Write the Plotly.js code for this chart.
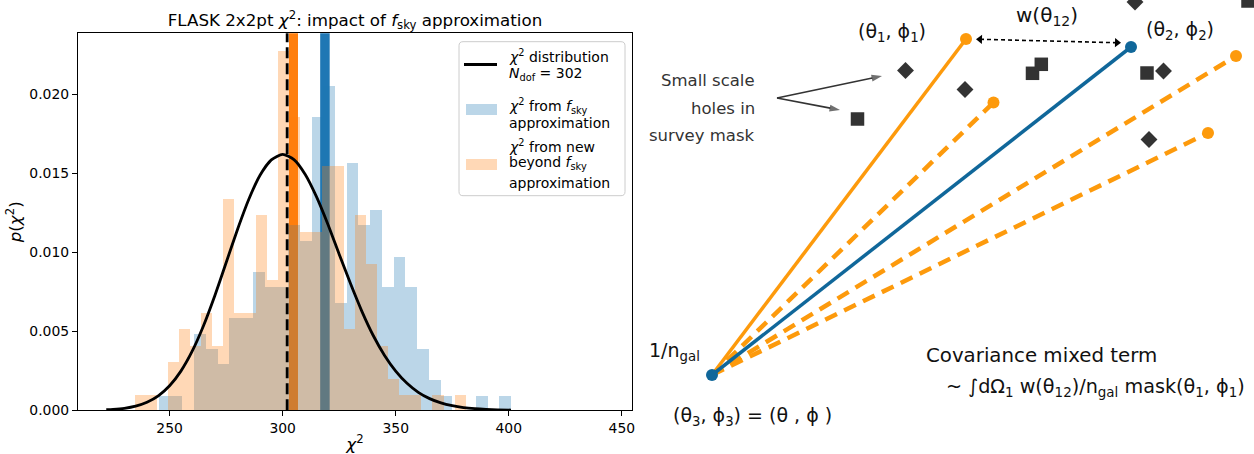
<!DOCTYPE html>
<html>
<head>
<meta charset="utf-8">
<script src="https://cdn.plot.ly/plotly-3.0.1.min.js"></script>
<style>
html,body{margin:0;padding:0;background:#ffffff;}
#chart{width:1254px;height:454px;}
</style>
</head>
<body>
<div id="chart"></div>
<script>
// ---------------- data (left panel) ----------------
// chi^2 histogram from the f_sky approximation (30 bins, density)
const fskyBinStart = 245.3;
const fskyBinWidth = 5.19;
const fskyDensity = [0.00092,0.00092,0,0.00483,0.00388,0.00291,0.00586,0.00586,0.00877,0.00782,
                     0.00782,0.01173,0.01074,0.01855,0.02053,0.0068,0.01564,0.01173,0.01268,0.00779,
                     0.00972,0.00779,0.00386,0.0019,0.00092,0,0,0.00092,0,0.00092];
// chi^2 histogram from the new beyond-f_sky approximation (30 bins, density)
const newBinStart = 234.5;
const newBinWidth = 4.88;
const newDensity = [0.00097,0.00097,0,0.00304,0.00513,0.00409,0.00614,0.00409,0.0134,0.00614,
                    0.00614,0.01236,0.00825,0.02274,0.01855,0.0113,0.0113,0.01547,0.01547,0.00513,
                    0.01236,0.00926,0.00409,0.00198,0.00097,0.00097,0,0.00097,0,0.00097];
// chi^2 distribution curve, N_dof = 302
const chi2Grid = [222,225,230,235,240,245,250,255,260,265,270,275,280,285,290,295,300,305,310,315,
                  320,325,330,335,340,345,350,355,360,365,370,375,380,385,390,395,401];
const chi2Pdf = [0.000034,0.000057,0.000126,0.000261,0.000504,0.00091,0.00155,0.00248,0.00374,0.00535,
                 0.00725,0.00934,0.01143,0.01334,0.01488,0.01585,0.0162,0.01587,0.01493,0.01351,
                 0.01178,0.00988,0.00802,0.00628,0.00475,0.00349,0.00248,0.00171,0.00114,0.00074,
                 0.00047,0.00029,0.00017,0.0001,0.000057,0.000032,0.000015];
// mean chi^2 values marked by vertical lines
const nDof = 302;
const fskyMean = 318.7;
const newMean = 304.8;
const xTickVals = [250,300,350,400,450];
const yTickVals = [0,0.005,0.01,0.015,0.02];
const yTickText = ['0.000','0.005','0.010','0.015','0.020'];

// ---------------- data (right panel diagram, drawing units) ----------------
const node3 = [712, 375];      // (θ3, ϕ3)
const node1 = [966, 39];       // (θ1, ϕ1)
const node2 = [1131, 47];      // (θ2, ϕ2)
const dashedEndX = [993.5, 1236, 1208];
const dashedEndY = [102.5, 56, 133];
const holeSquareX = [857.5, 1032.5, 1041.3, 1147, 1248];
const holeSquareY = [119, 73.3, 64.3, 73, 1];
const holeDiamondX = [905.5, 965, 1163.5, 1149, 1135];
const holeDiamondY = [70.5, 89.5, 71, 139.5, 2];
const wArrowX = [980, 1117];
const wArrowY = [39.3, 42.7];
const pointerFrom = [777, 98];
const pointerToX = [882, 840];
const pointerToY = [76, 110];

// ---------------- helpers ----------------
const W = 1254, H = 454;
const PX = v => v / W;
const PY = v => 1 - v / H;
const ORANGE = '#fd9a0c';
const BLUE = '#10679a';
const DARK = '#333333';
const FONT = 'DejaVu Sans, sans-serif';
const DFONT = 'DejaVu Sans, sans-serif';
const NB = '\u00a0';

const centers = (start, w, arr) => arr.map((_, i) => start + (i + 0.5) * w);

const traces = [];
traces.push({
  type: 'bar', x: centers(fskyBinStart, fskyBinWidth, fskyDensity), y: fskyDensity,
  width: fskyBinWidth, marker: {color: 'rgba(31,119,180,0.3)', line: {width: 0}},
  xaxis: 'x', yaxis: 'y', showlegend: false, hoverinfo: 'skip'
});
traces.push({
  type: 'bar', x: centers(newBinStart, newBinWidth, newDensity), y: newDensity,
  width: newBinWidth, marker: {color: 'rgba(255,127,14,0.3)', line: {width: 0}},
  xaxis: 'x', yaxis: 'y', showlegend: false, hoverinfo: 'skip'
});
traces.push({
  type: 'scatter', mode: 'lines', x: chi2Grid, y: chi2Pdf,
  line: {color: '#000000', width: 2.8, shape: 'spline', smoothing: 0.6},
  xaxis: 'x', yaxis: 'y', showlegend: false, hoverinfo: 'skip'
});

// diagram: dashed orange lines
for (let i = 0; i < dashedEndX.length; i++) {
  traces.push({
    type: 'scatter', mode: 'lines', x: [node3[0], dashedEndX[i]], y: [node3[1], dashedEndY[i]],
    line: {color: ORANGE, width: 4.5, dash: '13px,8px'},
    xaxis: 'x2', yaxis: 'y2', showlegend: false, hoverinfo: 'skip'
  });
}
traces.push({
  type: 'scatter', mode: 'lines', x: [node3[0], node1[0]], y: [node3[1], node1[1]],
  line: {color: ORANGE, width: 3.5}, xaxis: 'x2', yaxis: 'y2', showlegend: false, hoverinfo: 'skip'
});
traces.push({
  type: 'scatter', mode: 'lines', x: [node3[0], node2[0]], y: [node3[1], node2[1]],
  line: {color: BLUE, width: 3.5}, xaxis: 'x2', yaxis: 'y2', showlegend: false, hoverinfo: 'skip'
});
traces.push({
  type: 'scatter', mode: 'markers', x: dashedEndX.concat([node1[0]]), y: dashedEndY.concat([node1[1]]),
  marker: {color: ORANGE, size: 12, line: {width: 0}}, xaxis: 'x2', yaxis: 'y2', showlegend: false, hoverinfo: 'skip'
});
traces.push({
  type: 'scatter', mode: 'markers', x: [node3[0], node2[0]], y: [node3[1], node2[1]],
  marker: {color: BLUE, size: 12, line: {width: 0}}, xaxis: 'x2', yaxis: 'y2', showlegend: false, hoverinfo: 'skip'
});
traces.push({
  type: 'scatter', mode: 'markers', x: holeSquareX, y: holeSquareY,
  marker: {symbol: 'square', color: DARK, size: 13.5, line: {width: 0}},
  xaxis: 'x2', yaxis: 'y2', showlegend: false, hoverinfo: 'skip'
});
traces.push({
  type: 'scatter', mode: 'markers', x: holeDiamondX, y: holeDiamondY,
  marker: {symbol: 'diamond', color: DARK, size: 13, line: {width: 0}},
  xaxis: 'x2', yaxis: 'y2', showlegend: false, hoverinfo: 'skip'
});
// w(θ12) dashed double arrow
traces.push({
  type: 'scatter', mode: 'lines', x: wArrowX, y: wArrowY,
  line: {color: '#000000', width: 1.6, dash: '4px,3px'},
  xaxis: 'x2', yaxis: 'y2', showlegend: false, hoverinfo: 'skip'
});
traces.push({
  type: 'scatter', mode: 'markers', x: wArrowX, y: wArrowY,
  marker: {symbol: ['triangle-left', 'triangle-right'], angle: 1.4, color: '#000000', size: 8, line: {width: 0}},
  xaxis: 'x2', yaxis: 'y2', showlegend: false, hoverinfo: 'skip'
});
// "small scale holes" pointer arrows
for (let i = 0; i < pointerToX.length; i++) {
  traces.push({
    type: 'scatter', mode: 'lines+markers', x: [pointerFrom[0], pointerToX[i]], y: [pointerFrom[1], pointerToY[i]],
    line: {color: DARK, width: 1.6},
    marker: {symbol: ['circle', 'arrow'], angleref: 'previous', size: [0, 11], color: DARK, line: {width: 0}},
    xaxis: 'x2', yaxis: 'y2', showlegend: false, hoverinfo: 'skip', cliponaxis: false
  });
}

// ---------------- shapes ----------------
function roundRect(x0, y0, x1, y1, r) {
  const X = v => PX(v).toFixed(5), Y = v => PY(v).toFixed(5);
  return `M${X(x0 + r)},${Y(y0)} L${X(x1 - r)},${Y(y0)} Q${X(x1)},${Y(y0)} ${X(x1)},${Y(y0 + r)} ` +
         `L${X(x1)},${Y(y1 - r)} Q${X(x1)},${Y(y1)} ${X(x1 - r)},${Y(y1)} L${X(x0 + r)},${Y(y1)} ` +
         `Q${X(x0)},${Y(y1)} ${X(x0)},${Y(y1 - r)} L${X(x0)},${Y(y0 + r)} Q${X(x0)},${Y(y0)} ${X(x0 + r)},${Y(y0)} Z`;
}

const shapes = [
  {type: 'line', xref: 'x', yref: 'y domain', x0: newMean, x1: newMean, y0: 0, y1: 1,
   line: {color: '#ff7f0e', width: 9}, layer: 'below'},
  {type: 'line', xref: 'x', yref: 'y domain', x0: fskyMean, x1: fskyMean, y0: 0, y1: 1,
   line: {color: '#1f77b4', width: 9.5}, layer: 'below'},
  {type: 'line', xref: 'x', yref: 'y domain', x0: nDof, x1: nDof, y0: 0, y1: 1,
   line: {color: '#000000', width: 2.8, dash: '11px,5px'}, layer: 'above'},
  // legend frame
  {type: 'path', xref: 'paper', yref: 'paper', path: roundRect(459, 41.7, 625, 195.7, 4),
   fillcolor: 'rgba(255,255,255,0.8)', line: {color: '#cccccc', width: 1}},
  {type: 'line', xref: 'paper', yref: 'paper', x0: PX(464), x1: PX(497), y0: PY(64.5), y1: PY(64.5),
   line: {color: '#000000', width: 2.8}},
  {type: 'rect', xref: 'paper', yref: 'paper', x0: PX(466), x1: PX(497), y0: PY(104), y1: PY(115),
   fillcolor: 'rgba(31,119,180,0.3)', line: {width: 0}},
  {type: 'rect', xref: 'paper', yref: 'paper', x0: PX(466), x1: PX(497), y0: PY(159), y1: PY(170),
   fillcolor: 'rgba(255,127,14,0.3)', line: {width: 0}}
];

// ---------------- annotations ----------------
const legendLines = [
  ['<i>χ</i><sup>2</sup> distribution', 56],
  ['<i>N</i><sub>dof</sub> = 302', 74],
  ['<i>χ</i><sup>2</sup> from <i>f</i><sub>sky</sub>', 106],
  ['approximation', 123],
  ['<i>χ</i><sup>2</sup> from new', 146],
  ['beyond <i>f</i><sub>sky</sub>', 163],
  ['approximation', 183]
];
const annotations = legendLines.map(([t, y]) => ({
  xref: 'paper', yref: 'paper', x: PX(507), y: PY(y), xanchor: 'left', yanchor: 'middle',
  text: t, showarrow: false, font: {family: FONT, size: 14, color: '#000000'}
}));

const dtext = (t, x, y, xa, size, color) => ({
  xref: 'x2', yref: 'y2', x: x, y: y, xanchor: xa || 'center', yanchor: 'middle', text: t,
  showarrow: false, font: {family: DFONT, size: size || 18, color: color || '#111111'}
});
annotations.push(dtext('(θ<sub>1</sub>, ϕ<sub>1</sub>)', 892, 32, 'center', 19));
annotations.push(dtext('w(θ<sub>12</sub>)', 1047, 16, 'center', 20));
annotations.push(dtext('(θ<sub>2</sub>, ϕ<sub>2</sub>)', 1180, 30, 'center', 19));
annotations.push(dtext('Small scale', 757, 80, 'right', 16.5, DARK));
annotations.push(dtext('holes in', 757, 108, 'right', 16.5, DARK));
annotations.push(dtext('survey mask', 757, 135, 'right', 16.5, DARK));
annotations.push(dtext('1/n<sub>gal</sub>', 647, 351, 'left', 19));
annotations.push(dtext('Covariance mixed term', 924, 355, 'left', 19.8));
annotations.push(dtext('~ ∫dΩ<sub>1</sub> w(θ<sub>12</sub>)/n<sub>gal</sub> mask(θ<sub>1</sub>, ϕ<sub>1</sub>)', 944, 387, 'left', 19.2));
annotations.push(dtext('(θ<sub>3</sub>, ϕ<sub>3</sub>) = (θ' + NB + ', ϕ' + NB + ')', 671, 416, 'left', 19));

const axisCommon = {
  showgrid: false, zeroline: false, showline: true, mirror: true, linecolor: '#000000', linewidth: 1.1,
  ticks: 'outside', ticklen: 5, tickwidth: 1.1, tickcolor: '#000000',
  tickfont: {family: FONT, size: 13.9, color: '#000000'}
};

const layout = {
  width: W, height: H,
  margin: {l: 0, r: 0, t: 0, b: 0},
  paper_bgcolor: '#ffffff', plot_bgcolor: '#ffffff',
  barmode: 'overlay', bargap: 0,
  showlegend: false,
  title: {
    text: 'FLASK 2x2pt <i>χ</i><sup>2</sup>: impact of <i>f</i><sub>sky</sub> approximation',
    font: {family: FONT, size: 16.7, color: '#000000'},
    x: PX(355), xanchor: 'center', xref: 'paper', y: PY(20), yanchor: 'middle', yref: 'paper'
  },
  xaxis: Object.assign({}, axisCommon, {
    domain: [PX(78), PX(632)], range: [209.5, 454.5], tickvals: xTickVals, anchor: 'y',
    title: {text: '<i>χ</i><sup>2</sup>', font: {family: FONT, size: 16.7, color: '#000000'}, standoff: 4}
  }),
  yaxis: Object.assign({}, axisCommon, {
    domain: [PY(410.3), PY(33.3)], range: [0, 0.02386], tickvals: yTickVals, ticktext: yTickText, anchor: 'x',
    title: {text: '<i>p</i>(<i>χ</i><sup>2</sup>)', font: {family: FONT, size: 16.7, color: '#000000'}, standoff: 3}
  }),
  xaxis2: {domain: [PX(640), 1], range: [640, 1254], visible: false, anchor: 'y2', fixedrange: true},
  yaxis2: {domain: [0, 1], range: [454, 0], visible: false, anchor: 'x2', fixedrange: true},
  shapes: shapes,
  annotations: annotations
};

Plotly.newPlot('chart', traces, layout, {displayModeBar: false, staticPlot: true});
</script>
</body>
</html>
